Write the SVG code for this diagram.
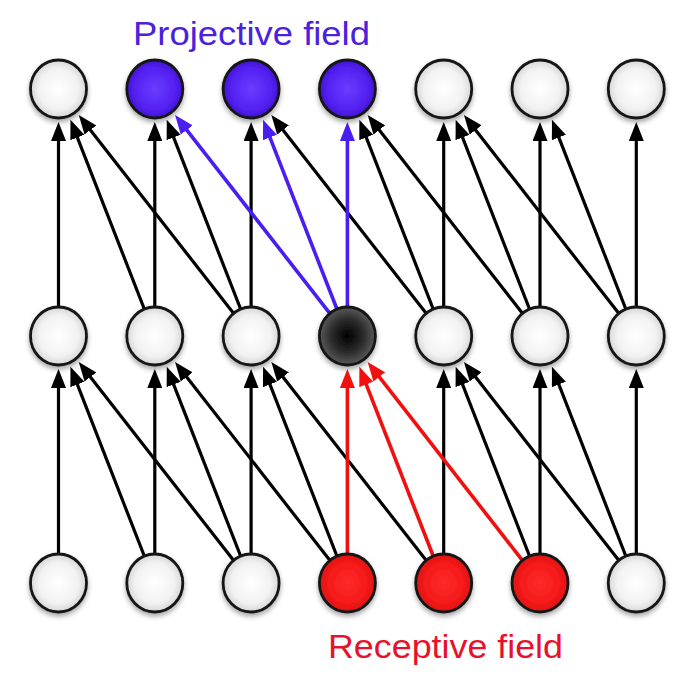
<svg xmlns="http://www.w3.org/2000/svg" width="682" height="700" viewBox="0 0 682 700">
<defs>
<style>
.lbl{font-family:"Liberation Sans",Arial,sans-serif;font-size:34px}
.e{stroke:#000;stroke-width:3.2;fill:none;marker-end:url(#ah)}
.eb{stroke:#4a1ef0;stroke-width:3.6;fill:none;marker-end:url(#ahb)}
.er{stroke:#f01010;stroke-width:3.6;fill:none;marker-end:url(#ahr)}
.n{stroke:#151515;stroke-width:2.8;filter:url(#sh)}
.w{fill:url(#gw)}
.b{fill:url(#gb)}
.r{fill:url(#gr)}
.k{fill:url(#gk)}
</style>
<radialGradient id="gw" cx="0.5" cy="0.5" r="0.5"><stop offset="0" stop-color="#ffffff"/><stop offset="0.7" stop-color="#f2f2f2"/><stop offset="1" stop-color="#d6d6d6"/></radialGradient>
<radialGradient id="gb" cx="0.5" cy="0.5" r="0.5"><stop offset="0" stop-color="#6a3cff"/><stop offset="0.7" stop-color="#5522f2"/><stop offset="1" stop-color="#4412d8"/></radialGradient>
<radialGradient id="gr" cx="0.5" cy="0.5" r="0.5"><stop offset="0" stop-color="#ff2a2a"/><stop offset="0.7" stop-color="#f51a1a"/><stop offset="1" stop-color="#dd1010"/></radialGradient>
<radialGradient id="gk" cx="0.5" cy="0.5" r="0.5"><stop offset="0" stop-color="#000000"/><stop offset="0.6" stop-color="#2e2e2e"/><stop offset="1" stop-color="#5a5a5a"/></radialGradient>
<filter id="sh" x="-30%" y="-30%" width="160%" height="170%"><feDropShadow dx="0" dy="3" stdDeviation="2.5" flood-color="#000" flood-opacity="0.35"/></filter>
<marker id="ah" markerUnits="userSpaceOnUse" markerWidth="19" markerHeight="15" refX="9" refY="7.5" orient="auto"><path d="M0,0 L19,7.5 L0,15 z" fill="#000"/></marker>
<marker id="ahb" markerUnits="userSpaceOnUse" markerWidth="19" markerHeight="15" refX="9" refY="7.5" orient="auto"><path d="M0,0 L19,7.5 L0,15 z" fill="#4a1ef0"/></marker>
<marker id="ahr" markerUnits="userSpaceOnUse" markerWidth="19" markerHeight="15" refX="9" refY="7.5" orient="auto"><path d="M0,0 L19,7.5 L0,15 z" fill="#f01010"/></marker>
</defs>
<rect width="682" height="700" fill="#fff"/>
<g id="connectors">
<line class="e" x1="58.5" y1="307" x2="58.5" y2="132"/>
<line class="e" x1="154.8" y1="307" x2="154.8" y2="132"/>
<line class="e" x1="144.3" y1="309" x2="74.1" y2="129.1"/>
<line class="e" x1="251.1" y1="307" x2="251.1" y2="132"/>
<line class="e" x1="240.6" y1="309" x2="170.4" y2="129.1"/>
<line class="e" x1="233.3" y1="313.1" x2="84.9" y2="122.9"/>
<line class="e" x1="443.7" y1="307" x2="443.7" y2="132"/>
<line class="e" x1="433.2" y1="309" x2="363" y2="129.1"/>
<line class="e" x1="425.9" y1="313.1" x2="277.5" y2="122.9"/>
<line class="e" x1="540" y1="307" x2="540" y2="132"/>
<line class="e" x1="529.5" y1="309" x2="459.3" y2="129.1"/>
<line class="e" x1="522.2" y1="313.1" x2="373.8" y2="122.9"/>
<line class="e" x1="636.3" y1="307" x2="636.3" y2="132"/>
<line class="e" x1="625.8" y1="309" x2="555.6" y2="129.1"/>
<line class="e" x1="618.5" y1="313.1" x2="470.1" y2="122.9"/>
<line class="e" x1="58.5" y1="554" x2="58.5" y2="379"/>
<line class="e" x1="154.8" y1="554" x2="154.8" y2="379"/>
<line class="e" x1="144.3" y1="556" x2="74.1" y2="376.1"/>
<line class="e" x1="251.1" y1="554" x2="251.1" y2="379"/>
<line class="e" x1="240.6" y1="556" x2="170.4" y2="376.1"/>
<line class="e" x1="233.3" y1="560.1" x2="84.9" y2="369.9"/>
<line class="e" x1="336.9" y1="556" x2="266.7" y2="376.1"/>
<line class="e" x1="329.6" y1="560.1" x2="181.2" y2="369.9"/>
<line class="e" x1="443.7" y1="554" x2="443.7" y2="379"/>
<line class="e" x1="425.9" y1="560.1" x2="277.5" y2="369.9"/>
<line class="e" x1="540" y1="554" x2="540" y2="379"/>
<line class="e" x1="529.5" y1="556" x2="459.3" y2="376.1"/>
<line class="e" x1="636.3" y1="554" x2="636.3" y2="379"/>
<line class="e" x1="625.8" y1="556" x2="555.6" y2="376.1"/>
<line class="e" x1="618.5" y1="560.1" x2="470.1" y2="369.9"/>
<line class="eb" x1="347.4" y1="307" x2="347.4" y2="132"/>
<line class="eb" x1="336.9" y1="309" x2="266.7" y2="129.1"/>
<line class="eb" x1="329.6" y1="313.1" x2="181.2" y2="122.9"/>
<line class="er" x1="347.4" y1="554" x2="347.4" y2="379"/>
<line class="er" x1="433.2" y1="556" x2="363" y2="376.1"/>
<line class="er" x1="522.2" y1="560.1" x2="373.8" y2="369.9"/>
</g>
<g id="top-0"><ellipse class="n w" cx="58.5" cy="89" rx="28" ry="29"/></g>
<g id="top-1"><ellipse class="n b" cx="154.8" cy="89" rx="28" ry="29"/></g>
<g id="top-2"><ellipse class="n b" cx="251.1" cy="89" rx="28" ry="29"/></g>
<g id="top-3"><ellipse class="n b" cx="347.4" cy="89" rx="28" ry="29"/></g>
<g id="top-4"><ellipse class="n w" cx="443.7" cy="89" rx="28" ry="29"/></g>
<g id="top-5"><ellipse class="n w" cx="540" cy="89" rx="28" ry="29"/></g>
<g id="top-6"><ellipse class="n w" cx="636.3" cy="89" rx="28" ry="29"/></g>
<g id="mid-0"><ellipse class="n w" cx="58.5" cy="336" rx="28" ry="29"/></g>
<g id="mid-1"><ellipse class="n w" cx="154.8" cy="336" rx="28" ry="29"/></g>
<g id="mid-2"><ellipse class="n w" cx="251.1" cy="336" rx="28" ry="29"/></g>
<g id="mid-3"><ellipse class="n k" cx="347.4" cy="336" rx="28" ry="29"/></g>
<g id="mid-4"><ellipse class="n w" cx="443.7" cy="336" rx="28" ry="29"/></g>
<g id="mid-5"><ellipse class="n w" cx="540" cy="336" rx="28" ry="29"/></g>
<g id="mid-6"><ellipse class="n w" cx="636.3" cy="336" rx="28" ry="29"/></g>
<g id="bot-0"><ellipse class="n w" cx="58.5" cy="583" rx="28" ry="29"/></g>
<g id="bot-1"><ellipse class="n w" cx="154.8" cy="583" rx="28" ry="29"/></g>
<g id="bot-2"><ellipse class="n w" cx="251.1" cy="583" rx="28" ry="29"/></g>
<g id="bot-3"><ellipse class="n r" cx="347.4" cy="583" rx="28" ry="29"/></g>
<g id="bot-4"><ellipse class="n r" cx="443.7" cy="583" rx="28" ry="29"/></g>
<g id="bot-5"><ellipse class="n r" cx="540" cy="583" rx="28" ry="29"/></g>
<g id="bot-6"><ellipse class="n w" cx="636.3" cy="583" rx="28" ry="29"/></g>
<g id="label-projective"><text class="lbl" x="133" y="45" fill="#4a22dd" textLength="237" lengthAdjust="spacingAndGlyphs">Projective field</text></g>
<g id="label-receptive"><text class="lbl" x="328" y="658" fill="#e8112a" textLength="235" lengthAdjust="spacingAndGlyphs">Receptive field</text></g>
</svg>
